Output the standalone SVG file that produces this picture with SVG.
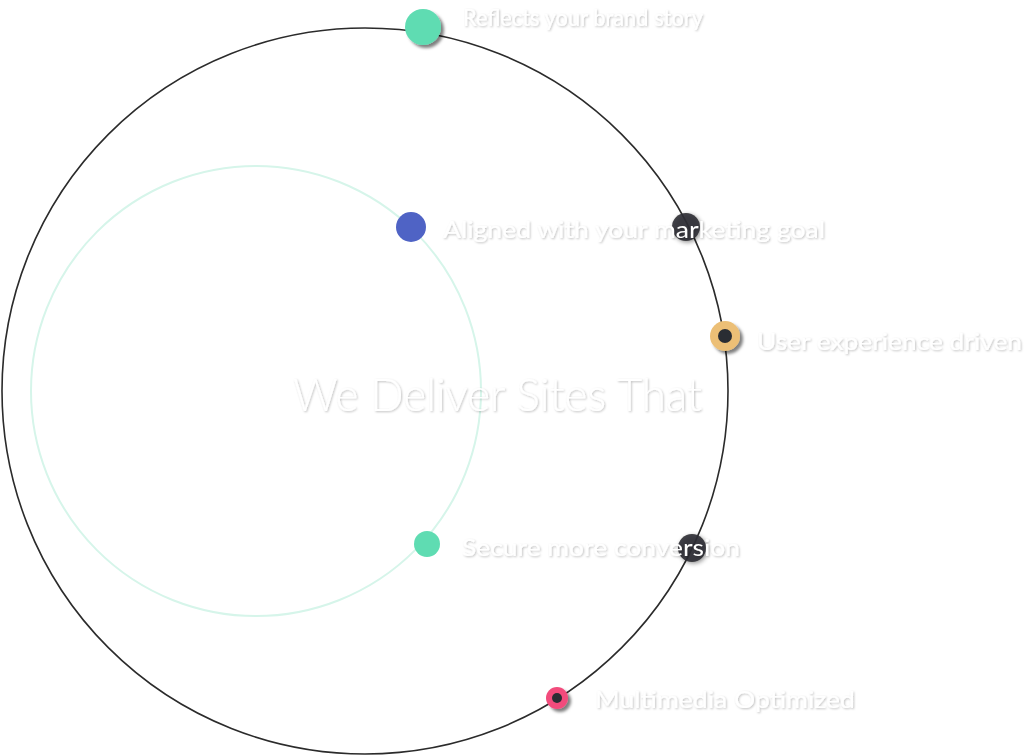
<svg xmlns="http://www.w3.org/2000/svg" width="1024" height="756" viewBox="0 0 1024 756">
<defs>
<filter id="ts" x="-5%" y="-30%" width="110%" height="160%">
<feDropShadow dx="1" dy="1" stdDeviation="0.8" flood-color="#000" flood-opacity="0.25"/>
</filter>
<filter id="ns" x="-50%" y="-50%" width="200%" height="200%">
<feDropShadow dx="3" dy="3" stdDeviation="1.5" flood-color="#000" flood-opacity="0.5"/>
</filter>
<filter id="halo" x="-50%" y="-50%" width="200%" height="200%">
<feDropShadow dx="1.5" dy="1.5" stdDeviation="2" flood-color="#000" flood-opacity="0.45"/>
</filter>
<style>
.lbl{font-family:"Lato","Liberation Sans",sans-serif;font-size:23px;fill:#fff;filter:url(#ts)}
.title{font-family:"Lato","Liberation Sans",sans-serif;font-weight:300;font-size:46px;fill:#fff;filter:url(#ts)}
.ring{fill:none}
.dark{fill:#2f2f33;fill-opacity:0.9;filter:url(#halo)}
</style>
</defs>
<rect width="1024" height="756" fill="#fff"/>
<g id="connectors">
<circle class="ring" cx="365" cy="391" r="363" stroke="#2b2b2b" stroke-width="1.6"/>
<circle class="ring" cx="256" cy="391" r="225" stroke="#d6f5ea" stroke-width="2"/>
</g>
<g id="node-dark1">
<circle class="dark" cx="686" cy="227" r="14"/>
</g>
<g id="node-dark2">
<circle class="dark" cx="692" cy="548" r="14"/>
</g>
<g id="title"><text class="title" x="293" y="411" textLength="409" lengthAdjust="spacingAndGlyphs">We Deliver Sites That</text></g>
<g id="node-brand">
<circle cx="423" cy="27" r="18" fill="#5fdcb2" filter="url(#ns)"/>
<text class="lbl" x="463" y="26" textLength="240" lengthAdjust="spacingAndGlyphs">Reflects your brand story</text>
</g>
<g id="node-marketing">
<circle cx="411" cy="227" r="15" fill="#4f63c5"/>
<text class="lbl" x="443" y="238" textLength="382" lengthAdjust="spacingAndGlyphs">Aligned with your marketing goal</text>
</g>
<g id="node-ux">
<circle cx="725" cy="336" r="15" fill="#ecbf76" filter="url(#ns)"/>
<circle cx="725" cy="336" r="7" fill="#2a2d33"/>
<text class="lbl" x="757" y="350" textLength="265" lengthAdjust="spacingAndGlyphs">User experience driven</text>
</g>
<g id="node-conversion">
<circle cx="427" cy="544" r="13" fill="#5fdcb2"/>
<text class="lbl" x="462" y="556" textLength="278" lengthAdjust="spacingAndGlyphs">Secure more conversion</text>
</g>
<g id="node-multimedia">
<circle cx="557" cy="698" r="11" fill="#f24c7c" filter="url(#ns)"/>
<circle cx="557" cy="698" r="5" fill="#2a2d33"/>
<text class="lbl" x="595" y="708" textLength="260" lengthAdjust="spacingAndGlyphs">Multimedia Optimized</text>
</g>
</svg>
